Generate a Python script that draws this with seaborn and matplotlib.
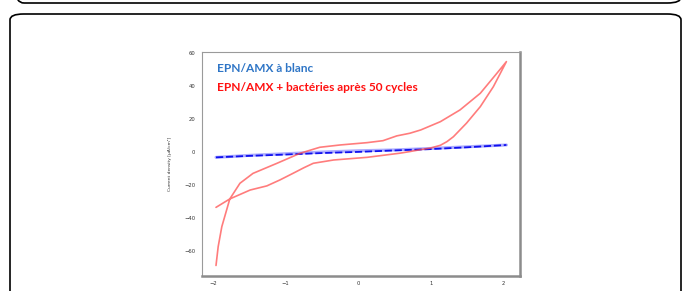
import matplotlib
matplotlib.use('Agg')
import matplotlib.pyplot as plt
from matplotlib.patches import FancyBboxPatch
import seaborn as sns
import pandas as pd

# cyclic voltammetry
red_fwd_x = [-1.96, -1.77, -1.49, -1.26, -1.08, -0.90, -0.75, -0.62, -0.34, 0.12, 0.57, 0.71, 0.86, 1.00, 1.13, 1.22, 1.31, 1.49, 1.68, 1.86, 2.04]
red_fwd_y = [-33.8, -28.7, -23.3, -20.8, -17.2, -13.2, -9.8, -7.1, -5.1, -3.5, -1.0, 0.0, 1.2, 2.2, 3.8, 6.0, 9.0, 17.2, 27.2, 39.3, 54.5]
red_back_x = [2.04, 1.91, 1.68, 1.40, 1.13, 0.86, 0.71, 0.53, 0.34, 0.12, -0.25, -0.53, -0.80, -1.12, -1.45, -1.63, -1.77, -1.88, -1.93, -1.96]
red_back_y = [54.5, 47.5, 35.3, 25.2, 18.1, 13.1, 11.1, 9.5, 6.6, 5.4, 4.0, 2.6, -1.0, -7.1, -13.2, -19.2, -28.7, -45.5, -57.6, -69.0]

blue_fwd_x = [-1.96, -1.5, -1.0, -0.5, 0.0, 0.5, 1.0, 1.5, 2.04]
blue_fwd_y = [-3.5, -2.6, -1.8, -0.9, -0.2, 0.7, 1.5, 2.6, 4.0]
blue_back_x = [2.04, 1.5, 1.0, 0.5, 0.0, -0.5, -1.0, -1.5, -1.96]
blue_back_y = [4.0, 2.9, 1.9, 1.0, 0.5, -0.3, -1.3, -2.3, -3.5]

x_ticks = [-2, -1, 0, 1, 2]
y_ticks = [-60, -40, -20, 0, 20, 40, 60]

red = pd.DataFrame({'E': red_fwd_x + red_back_x, 'j': red_fwd_y + red_back_y})
blue_a = pd.DataFrame({'E': blue_fwd_x, 'j': blue_fwd_y})
blue_b = pd.DataFrame({'E': blue_back_x, 'j': blue_back_y})

sns.set_style('white')
plt.rcParams['font.family'] = ['DejaVu Sans']

fig = plt.figure(figsize=(6.83, 2.91), dpi=100)

# the two framed panels of the page
box1 = FancyBboxPatch((10 / 683, 288 / 291), 671 / 683, 0.2, boxstyle='round,pad=0,rounding_size=0.02',
                      transform=fig.transFigure, fill=False, ec='black', lw=1.2, clip_on=False)
box2 = FancyBboxPatch((10 / 683, -0.2), 671 / 683, 277 / 291 + 0.2, boxstyle='round,pad=0,rounding_size=0.02',
                      transform=fig.transFigure, fill=False, ec='black', lw=1.2, clip_on=False)
fig.patches.extend([box1, box2])

ax = fig.add_axes([201.7 / 683, 15.3 / 291, 318.3 / 683, 224 / 291])

sns.lineplot(data=blue_b, x='E', y='j', sort=False, estimator=None, color='#8a8aff', lw=2.2, alpha=0.7, ax=ax)
sns.lineplot(data=blue_a, x='E', y='j', sort=False, estimator=None, color='#1010ee', lw=1.3, ax=ax,
             linestyle=(0, (4, 1.5)))
sns.lineplot(data=red, x='E', y='j', sort=False, estimator=None, color='#ff4a4a', lw=1.2, alpha=0.72, ax=ax)

ax.set_xlim(-2.157, 2.227)
ax.set_ylim(-75.2, 60.5)
ax.set_xticks(x_ticks)
ax.set_yticks(y_ticks)
ax.tick_params(length=0, labelsize=3.8, labelcolor='#333333')
ax.tick_params(axis='x', pad=3.5)
ax.tick_params(axis='y', pad=4.5)
ax.set_xlabel('')
ax.set_ylabel('Current density [µA/cm²]', fontsize=3.2, color='#333333', labelpad=9)

for side in ['left', 'top']:
    ax.spines[side].set_color('#9a9a9a')
    ax.spines[side].set_linewidth(0.8)
for side in ['right', 'bottom']:
    ax.spines[side].set_color('#8c8c8c')
    ax.spines[side].set_linewidth(1.8)

ax.text(0.047, 0.923, 'EPN/AMX à blanc', transform=ax.transAxes, color='#2e75c6',
        fontsize=8.6, fontweight='bold', family=['Lato', 'DejaVu Sans'], va='center')
ax.text(0.047, 0.838, 'EPN/AMX + bactéries après 50 cycles', transform=ax.transAxes, color='#ff1010',
        fontsize=8.6, fontweight='bold', family=['Lato', 'DejaVu Sans'], va='center')

fig.savefig('out.png', dpi=100)
